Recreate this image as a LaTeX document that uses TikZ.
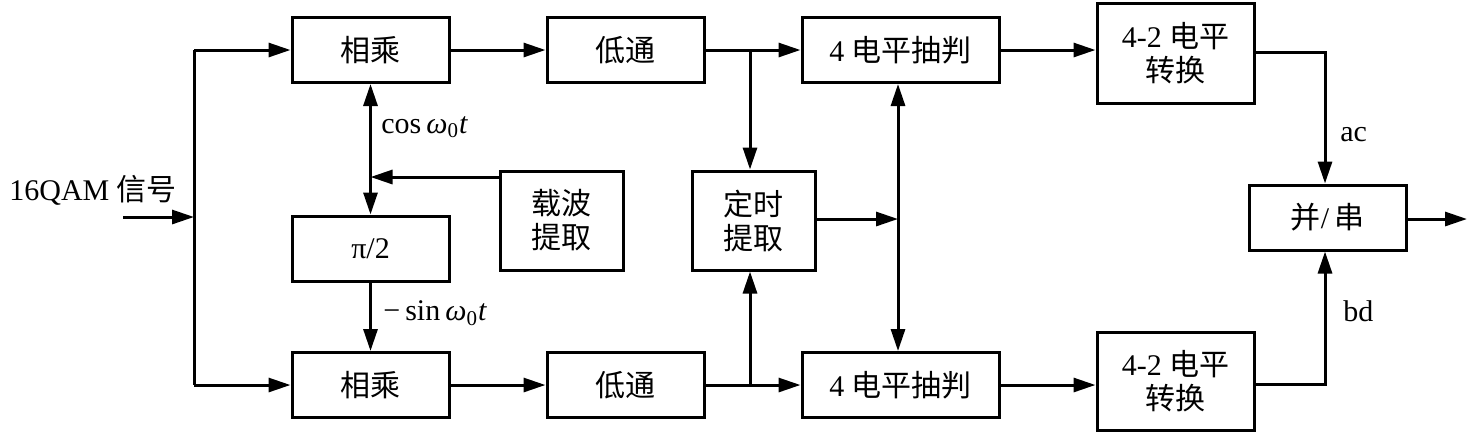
\documentclass[tikz,border=0pt]{standalone}
\usepackage{fontspec}
\setmainfont{Liberation Serif}
\newfontfamily\cjk{Noto Sans CJK SC}
\usetikzlibrary{arrows.meta}
\begin{document}
\begin{tikzpicture}[x=0.5pt,y=-0.5pt,
  every node/.style={font=\fontsize{15pt}{17pt}\selectfont},
  blk/.style={draw,line width=1.5pt,inner sep=0pt,align=center},
  wA/.style={minimum width=78.5pt},
  wB/.style={minimum width=98.5pt},
  wC/.style={minimum width=61.5pt},
  hA/.style={minimum height=32.5pt},
  hB/.style={minimum height=49.5pt},
  ln/.style={line width=1.5pt},
  arr/.style={ln,-{Triangle[length=11pt,width=7pt]}},
  darr/.style={ln,{Triangle[length=11pt,width=7pt]}-{Triangle[length=11pt,width=7pt]}},
  lbl/.style={anchor=west,inner sep=0pt}]
\useasboundingbox (0,0) rectangle (1472,436);
% blocks
\node[blk,wA,hA] (m1) at (370.5,50) {\cjk 相乘};
\node[blk,wA,hA] (pi) at (370.5,248.5) {π/2};
\node[blk,wA,hA] (m2) at (370.5,385) {\cjk 相乘};
\node[blk,wA,hA] (lp1) at (625.5,50) {\cjk 低通};
\node[blk,wA,hA] (lp2) at (625.5,385) {\cjk 低通};
\node[blk,wC,hB] (car) at (561.5,220.5) {\cjk 载波\\\cjk 提取};
\node[blk,wC,hB] (tim) at (753.5,220.5) {\cjk 定时\\\cjk 提取};
\node[blk,wB,hA] (d1) at (900.5,50) {4 {\cjk 电平抽判}};
\node[blk,wB,hA] (d2) at (900.5,385) {4 {\cjk 电平抽判}};
\node[blk,wA,minimum height=50pt] (c1) at (1175.5,53) {4-2 {\cjk 电平}\\{\cjk 转换}};
\node[blk,wA,minimum height=49pt] (c2) at (1175.5,381) {4-2 {\cjk 电平}\\{\cjk 转换}};
\node[blk,wA,hA] (ps) at (1327.5,217.5) {{\cjk 并}/\,{\cjk 串}};
% input
\node[lbl] (inlbl) at (9,190) {16QAM {\cjk 信号}};
\coordinate (in) at (123,217);
\coordinate (sIn) at (194,217);
\coordinate (sT) at (194,50);
\coordinate (sB) at (194,385);
\draw[arr] (in) -- (sIn);
\draw[ln] (sT) -- (sB);
\draw[arr] (sT) -- (m1.west);
\draw[arr] (sB) -- (m2.west);
% carrier
\draw[darr] (m1.south) -- (pi.north);
\draw[arr] (pi.south) -- (m2.north);
\coordinate (cj) at (370.5,177);
\draw[arr] (car.west |- cj) -- (cj);
\node[lbl] (cosl) at (381,127) {cos\,\textit{ω}\textsubscript{0}\textit{t}};
\node[lbl] (sinl) at (383,313) {−\,sin\,\textit{ω}\textsubscript{0}\textit{t}};
% filters
\draw[arr] (m1.east) -- (lp1.west);
\draw[arr] (m2.east) -- (lp2.west);
\draw[arr] (lp1.east) -- (d1.west);
\draw[arr] (lp2.east) -- (d2.west);
\coordinate (jt) at (750,50);
\coordinate (jb) at (750,385);
\draw[arr] (jt) -- (jt |- tim.north);
\draw[arr] (jb) -- (jb |- tim.south);
\coordinate (jm) at (898,219);
\draw[arr] (tim.east |- jm) -- (jm);
\draw[darr] (jm |- d1.south) -- (jm |- d2.north);
% converters
\draw[arr] (d1.east) -- (d1.east -| c1.west);
\draw[arr] (d2.east) -- (d2.east -| c2.west);
\coordinate (ac) at (1325,52);
\coordinate (bd) at (1325,384);
\draw[arr] (c1.east |- ac) -- (ac) -- (ac |- ps.north);
\draw[arr] (c2.east |- bd) -- (bd) -- (bd |- ps.south);
\node[lbl] (acl) at (1340,135) {ac};
\node[lbl] (bdl) at (1343,311) {bd};
\coordinate (out) at (1467,219);
\draw[arr] (ps.east |- out) -- (out);
\end{tikzpicture}
\end{document}
